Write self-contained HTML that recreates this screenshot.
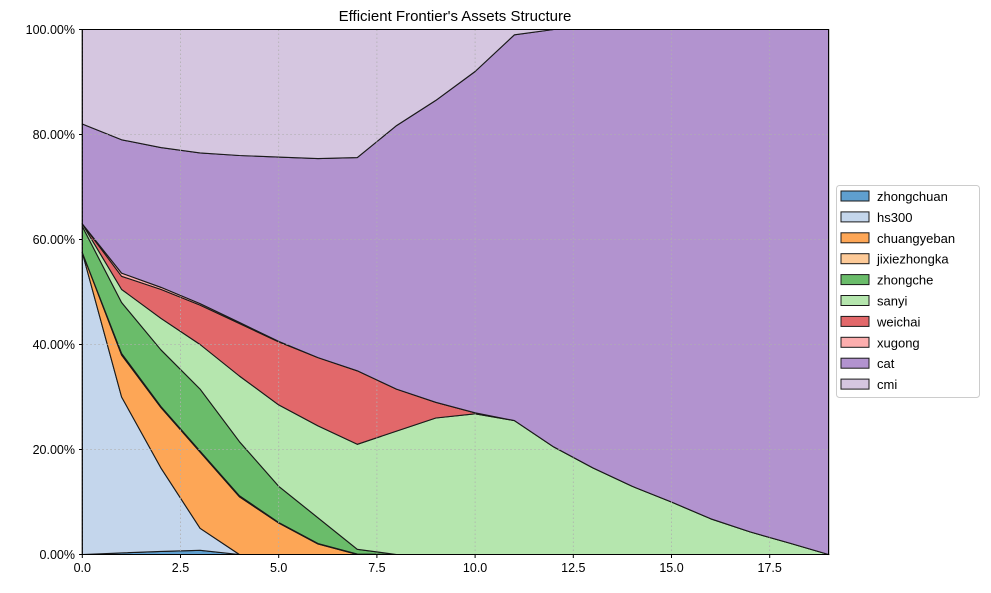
<!DOCTYPE html>
<html><head><meta charset="utf-8"><style>
body{margin:0;background:#fff;}
svg text{font-family:"Liberation Sans","DejaVu Sans",sans-serif;fill:#000;}
</style></head><body>
<svg id="s" width="991" height="588" xmlns="http://www.w3.org/2000/svg">
<rect width="991" height="588" fill="#fff"/>
<g id="layers"></g>
<g id="grid" stroke="#b0b0b0" stroke-width="0.8" stroke-dasharray="1.5,2.5"></g>
<rect x="82.3" y="29.5" width="746.3" height="525" fill="none" stroke="#000" stroke-width="1"/>
<g id="ticks"></g>
<text x="455" y="21" font-size="15" text-anchor="middle">Efficient Frontier's Assets Structure</text>
<g id="legend"></g>
</svg>
<script>
var X0=82.3,Y0=554.5,SX=39.28,SY=5.25;
function px(x){return X0+x*SX;} function py(v){return Y0-v*SY;}
var z=[0,0,0,0,0,0,0,0,0,0,0,0,0,0,0,0,0,0,0,0];
function pad(a,fill){a=a.slice();while(a.length<20)a.push(fill===undefined?a[a.length-1]:fill);return a;}
var sanyi=[63,50.5,45,40,34,28.5,24.5,21,23.5,26,26.8,25.5,20.5,16.5,13,10,6.8,4.3,2.2,0];
var wei=[63,53,50.5,47.5,44,40.5,37.5,35,31.5,29,27,25.5];
for(var i=12;i<20;i++)wei.push(sanyi[i]);
var xu=[63,53.6,50.9,47.8,44.2,40.6,37.5,35,31.5,29,27,25.5];
for(var i=12;i<20;i++)xu.push(sanyi[i]);
var c=[
 pad([0,0.3,0.6,0.8,0],0),
 pad([57.5,30,16.5,5,0],0),
 pad([57.5,38,28,19.5,11,6,2,0],0),
 pad([57.5,38.3,28.2,19.7,11.2,6.1,2.1,0.1,0],0),
 pad([62.5,48,39,31.5,21.5,13,7,1,0],0),
 sanyi,wei,xu,
 pad([82,79,77.5,76.5,76,75.7,75.4,75.6,81.7,86.5,92,99,100],100),
 pad([100],100)
];
var cols=["#5f9fcf","#c4d6ec","#fda656","#fdca98","#6abc6a","#b5e6ae","#e2686a","#fcaeae","#b293cf","#d5c6e0"];
var names=["zhongchuan","hs300","chuangyeban","jixiezhongka","zhongche","sanyi","weichai","xugong","cat","cmi"];
var L=document.getElementById("layers"),h="";
for(var k=0;k<10;k++){
 var lo=k?c[k-1]:z,up=c[k],pts=[];
 for(var i=0;i<20;i++)pts.push(px(i).toFixed(1)+","+py(up[i]).toFixed(1));
 for(var i=19;i>=0;i--)pts.push(px(i).toFixed(1)+","+py(lo[i]).toFixed(1));
 h+='<polygon points="'+pts.join(" ")+'" fill="'+cols[k]+'" stroke="#1a1a1a" stroke-width="1.1" stroke-linejoin="round"/>';
}
L.innerHTML=h;
var G=document.getElementById("grid"),g="",T=document.getElementById("ticks"),t="";
for(var x=0;x<=17.5;x+=2.5){var p=px(x);g+='<line x1="'+p+'" y1="29.5" x2="'+p+'" y2="554.5"/>';
 t+='<line x1="'+p+'" y1="554.5" x2="'+p+'" y2="558" stroke="#000"/><text x="'+p+'" y="572" font-size="12.5" text-anchor="middle">'+x.toFixed(1)+'</text>';}
for(var v=0;v<=100;v+=20){var q=py(v);g+='<line x1="82.3" y1="'+q+'" x2="828.6" y2="'+q+'"/>';
 t+='<line x1="79" y1="'+q+'" x2="82.3" y2="'+q+'" stroke="#000"/><text x="75" y="'+(q+4.5)+'" font-size="12.5" text-anchor="end">'+v.toFixed(2)+'%</text>';}
G.innerHTML=g;T.innerHTML=t;
var LG=document.getElementById("legend"),l='<rect x="836.5" y="185.5" width="143" height="212" rx="3" fill="#fff" stroke="#ccc"/>';
for(var k=0;k<10;k++){var y=191+k*20.9;
 l+='<rect x="841" y="'+y+'" width="28" height="10" fill="'+cols[k]+'" stroke="#1a1a1a" stroke-width="1"/><text x="877" y="'+(y+10)+'" font-size="13">'+names[k]+'</text>';}
LG.innerHTML=l;
</script>
</body></html>
